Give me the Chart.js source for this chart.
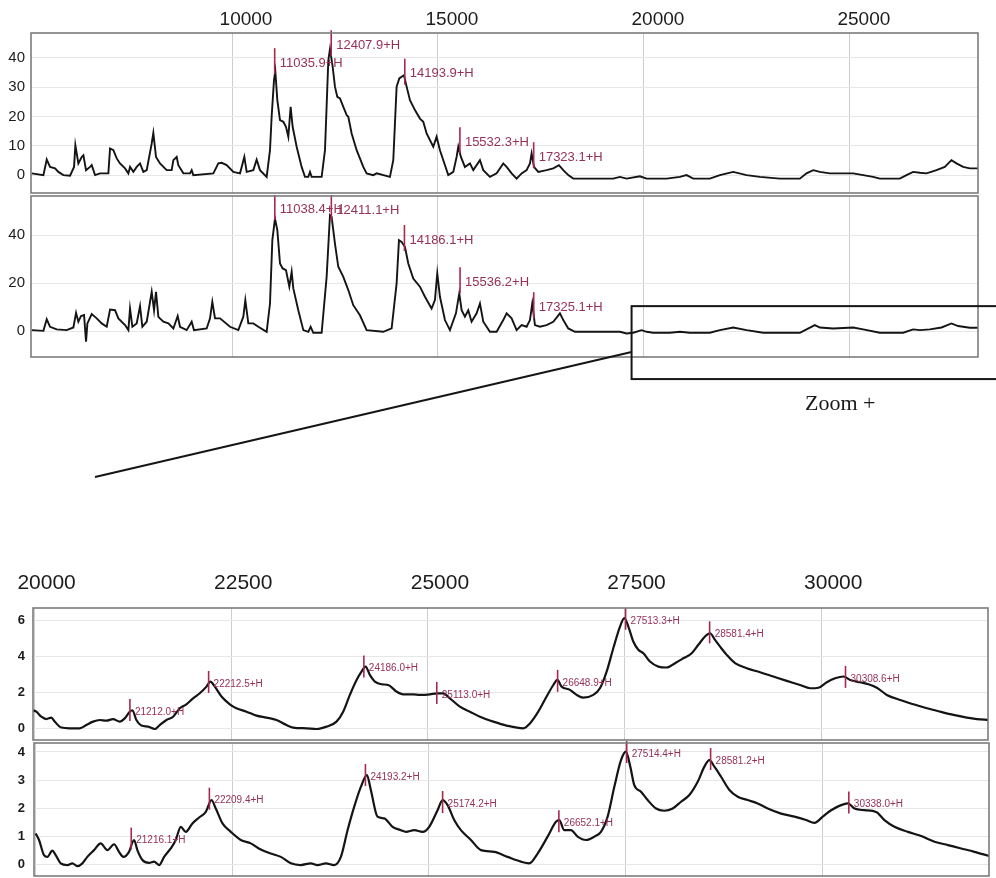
<!DOCTYPE html>
<html>
<head>
<meta charset="utf-8">
<title>Spectra</title>
<script src="https://cdn.jsdelivr.net/npm/chart.js@4.4.1/dist/chart.umd.min.js"></script>
<style>
    html, body { margin: 0; padding: 0; background: #fff; }
    body { width: 996px; height: 878px; position: relative; overflow: hidden; }
    canvas { position: absolute; left: 0; }
    #zoom-text { position: absolute; left: 805px; top: 390px; font: 22px "Liberation Serif", "Times New Roman", serif; color: #1a1a1a; white-space: nowrap; }
</style>
</head>
<body>
<canvas id="full-top" width="996" height="195" style="top:0"></canvas>
<canvas id="full-bottom" width="996" height="300" style="top:195px"></canvas>
<canvas id="zoom-top" width="996" height="182" style="top:560px"></canvas>
<canvas id="zoom-bottom" width="996" height="138" style="top:740px"></canvas>
<div id="zoom-text">Zoom +</div>
<script>
(function () {
    "use strict";

    // Full range spectrum, upper trace (m/z, intensity)
    var specA_mz = [5138,5421,5502,5583,5704,5785,5906,6068,6165,6197,6270,6351,6392,6456,6553,6594,6675,6796,6998,7039,
        7120,7201,7281,7403,7484,7524,7605,7686,7767,7848,7929,8050,8090,8155,8252,8414,8535,8576,8657,8697,
        8819,8980,9021,9061,9547,9668,9749,9870,10032,10194,10299,10356,10517,10598,10679,10841,10922,10962,11019,11051,
        11100,11165,11246,11310,11367,11423,11472,11569,11690,11771,11852,11893,11933,12176,12257,12338,12378,12443,12499,12556,
        12621,12702,12783,12823,12904,13026,13187,13268,13430,13511,13834,13915,13996,14061,14117,14174,14239,14320,14441,14562,
        14643,14724,14886,14967,15048,15129,15250,15372,15452,15493,15557,15654,15776,15857,16019,
        16100,16262,16424,16585,16666,16788,16909,17030,17152,17233,17273,17330,17435,17637,17799,17936,18042,18163,18284,19255,
        19417,19579,19902,20064,20549,20873,21035,21197,21601,21844,22167,22491,22815,23300,23785,23947,24109,24271,24514,25080,
        25322,25565,25727,26212,26374,26536,26698,26860,27102,27304,27466,27588,27749,27911,28113];
    var specA_int = [0.6,0,5.3,2.8,2.3,1.1,0,-0.2,2.8,10.2,4.0,6.2,6.8,1.7,2.8,3.4,0,0.6,0.6,9.1,
        8.5,5.7,4.0,2.3,0.6,2.8,1.1,2.8,4.0,1.1,1.7,10.8,14.4,6.2,4.0,1.7,1.7,5.1,6.2,3.4,
        0.6,0.6,1.7,0,0.6,4.0,4.2,3.4,1.1,0.6,6.2,1.1,1.7,5.3,1.7,-0.6,8.5,19.9,32.4,35.5,
        25.6,18.8,18.2,16.5,13.1,23.3,16.5,9.7,2.8,-0.6,-0.6,1.1,-0.6,-0.6,8.5,39.2,43.0,37.0,30.2,26.7,
        26.2,23.3,20.5,19.9,14.2,8.5,2.8,0.6,0,0.6,-0.6,5.1,30.2,33.0,33.6,34.1,30.2,25.6,22.2,19.3,
        18.2,14.2,9.7,13.1,8.5,5.1,0,1.1,6.2,9.7,6.2,2.8,4.0,1.7,5.1,
        1.7,-0.6,0.6,4.0,2.8,0.6,-1.2,0.6,1.7,4.0,7.4,2.8,1.1,1.7,2.3,3.4,1.7,0,-1.2,-1.2,
        -0.6,-1.2,-0.4,-1.2,-1.2,-0.6,0,-1.2,-1.2,0,1.1,0,-0.6,-1.2,-1.2,0.6,1.7,1.1,0.6,0.6,
        0,-0.6,-1.2,-1.2,0,1.1,0.8,0.6,1.7,2.8,5.1,4.0,2.8,2.3,2.3];

    // Full range spectrum, lower trace
    var specB_mz = [5138,5421,5502,5583,5744,5987,6149,6214,6270,6335,6408,6456,6489,6594,6715,6836,6958,7039,7160,7241,
        7403,7484,7524,7581,7686,7767,7823,7929,8050,8107,8155,8212,8333,8455,8576,8681,8738,8899,9021,9077,
        9385,9466,9522,9587,9709,9951,10153,10275,10323,10396,10517,10639,10841,10922,10979,11043,11100,11165,11229,11310,
        11391,11448,11488,11609,11731,11852,11909,11974,12176,12297,12378,12418,12499,12580,12702,12823,12944,13106,13268,13672,
        13875,13996,14053,14117,14198,14279,14400,14562,14684,14845,14926,14983,15048,15169,15290,15436,15517,15574,15654,15735,
        15816,15938,16019,16100,16262,16424,16585,16666,16788,16909,
        17030,17152,17233,17289,17354,17475,17637,17799,17961,18042,18163,18325,19417,19579,19740,19943,20064,20226,20630,20873,
        21116,21601,21844,22167,22491,22896,23785,23947,24149,24271,24595,25080,25322,25727,26293,26536,26698,26941,27224,27466,
        27628,27911,28113];
    var specB_int = [0.4,0.1,4.9,1.8,0.7,0.4,1.5,7.6,3.9,6.3,6.7,-4.4,3.2,7.1,5.3,3.2,1.8,9.0,8.7,5.3,
        2.5,0.4,9.4,1.8,3.2,10.4,1.8,3.9,16.4,8.7,16.4,5.9,3.9,3.2,1.1,6.3,1.8,0.4,3.9,0.4,
        1.1,5.3,12.2,5.3,5.3,1.8,0.4,6.0,12.9,3.2,3.2,1.8,-0.3,11.5,37.9,46.9,42.1,28.2,26.1,25.4,
        18.5,24.7,17.8,8.7,0.4,-0.3,1.8,-0.7,-0.7,22.6,48.3,47.6,36.5,26.8,22.6,17.1,10.8,6.6,0.4,-0.3,
        1.1,19.9,37.9,37.2,35.1,28.2,21.9,18.5,14.3,9.4,12.9,24.0,14.3,4.6,0.4,7.4,15.7,8.7,6.0,8.7,
        3.9,7.4,11.5,3.9,-0.3,-0.3,4.6,7.4,5.3,0.4,
        2.5,1.8,4.6,11.5,2.5,1.8,2.5,3.9,7.4,4.6,1.1,-0.3,-0.3,-1.0,-0.7,0.4,-0.3,-0.7,-0.7,-0.3,
        -0.7,-0.7,0.4,1.5,0.4,-0.7,-0.7,0.7,2.5,1.5,1.1,1.5,0.7,-0.7,-0.7,0.7,0.4,0.7,1.5,3.2,
        2.1,1.4,1.4];

    // Zoomed region, upper trace
    var zoomA_mz = [19980,20022,20086,20150,20213,20256,20340,20446,20574,20658,20743,20828,20913,20998,21082,21146,21210,21244,21294,21358,
        21443,21528,21591,21676,21761,21846,21930,22015,22100,22185,22236,22291,22376,22482,22566,22694,22821,22948,23075,23202,
        23287,23457,23584,23711,23838,23923,24008,24093,24156,24207,24262,24326,24411,24496,24602,24686,24814,24898,25026,25110,
        25195,25280,25407,25534,25662,25831,26000,26212,26297,26403,
        26509,26594,26645,26700,26806,26891,26975,27103,27187,27272,27357,27442,27497,27548,27611,27675,27739,27823,27929,28035,
        28141,28247,28353,28438,28523,28587,28650,28714,28799,28905,29053,29223,29392,29562,29731,29859,29965,30071,30177,30283,
        30368,30495,30601,30707,30834,31003,31173,31343,31512,31682,31851,31979,32127];
    var zoomA_int = [1.0,0.92,0.64,0.51,0.59,0.37,0.04,0.0,0.0,0.18,0.37,0.46,0.42,0.51,0.37,0.55,0.92,1.0,0.46,0.15,
        0.09,-0.04,0.18,0.46,0.64,1.11,1.33,1.66,1.94,2.31,2.59,2.31,1.76,1.33,1.11,0.92,0.70,0.59,0.46,0.18,
        0.04,0.0,-0.04,0.09,0.37,0.92,1.85,2.68,3.14,3.42,2.96,2.59,2.44,2.40,2.03,1.88,1.88,1.85,1.88,1.94,
        1.94,1.66,1.20,0.92,0.64,0.37,0.15,0.0,0.27,0.92,
        1.76,2.40,2.68,2.31,2.13,1.85,1.70,1.85,2.22,3.14,4.44,5.64,6.11,5.64,4.81,4.35,4.16,3.70,3.42,3.37,
        3.61,3.88,4.16,4.63,5.09,5.27,4.90,4.53,4.07,3.61,3.33,3.11,2.87,2.63,2.40,2.22,2.25,2.55,2.77,2.87,
        2.68,2.55,2.44,2.25,1.85,1.57,1.33,1.11,0.92,0.74,0.59,0.51,0.46];

    // Zoomed region, lower trace
    var zoomB_mz = [20001,20044,20107,20150,20213,20256,20319,20404,20468,20531,20595,20658,20743,20828,20913,20998,21061,21116,21188,21252,
        21294,21358,21443,21506,21570,21634,21718,21782,21846,21909,21994,22079,22164,22236,22291,22376,22482,22609,22736,22863,
        22990,23118,23245,23372,23499,23584,23690,23796,23881,23966,24050,24135,24212,24262,24347,24432,24538,24644,24708,24814,
        24920,25004,25110,25174,25238,25322,25407,25534,25662,25831,
        26000,26170,26276,26382,26509,26615,26657,26721,26806,26891,26997,27103,27187,27272,27357,27442,27505,27560,27611,27696,
        27781,27887,27993,28099,28205,28311,28417,28502,28565,28629,28714,28820,28926,29053,29180,29307,29477,29647,29795,29901,
        30007,30113,30240,30325,30410,30537,30685,30791,30918,31088,31258,31427,31597,31767,31936,32127];
    var zoomB_int = [1.10,0.87,0.33,0.27,0.49,0.33,0.04,-0.02,0.04,-0.06,0.04,0.27,0.51,0.75,0.51,0.72,0.45,0.27,0.45,0.87,
        0.51,0.16,0.06,0.10,-0.02,0.27,0.57,0.87,1.34,1.16,1.46,1.67,1.87,2.29,1.99,1.46,1.16,0.87,0.75,0.53,
        0.39,0.27,0.04,-0.02,0.04,-0.02,0.04,-0.02,0.27,1.22,2.05,2.76,3.18,2.65,1.70,1.64,1.34,1.22,1.16,1.22,
        1.16,1.34,1.93,2.29,2.11,1.58,1.22,0.87,0.51,0.45,
        0.27,0.10,0.04,0.39,0.99,1.52,1.58,1.22,1.22,0.99,0.87,0.99,1.16,1.70,2.76,3.71,4.01,3.48,2.82,2.59,
        2.29,1.99,1.91,1.99,2.23,2.47,2.94,3.48,3.71,3.48,3.12,2.65,2.41,2.29,2.17,1.99,1.81,1.70,1.58,1.48,
        1.70,1.93,2.11,2.17,1.99,1.93,1.87,1.58,1.34,1.16,1.01,0.81,0.69,0.57,0.45,0.30];

    // Labelled peaks: m/z and height of the red marker
    var peaksA_mz = [11035.9, 12407.9, 14193.9, 15532.3, 17323.1];
    var peaksA_mark = [38.9, 45.0, 35.3, 11.9, 6.8];
    var peaksB_mz = [11038.4, 12411.1, 14186.1, 15536.2, 17325.1];
    var peaksB_mark = [51.7, 51.3, 38.8, 21.2, 10.8];
    var zoomPeaksA_mz = [21212.0, 22212.5, 24186.0, 25113.0, 26648.9, 27513.3, 28581.4, 30308.6];
    var zoomPeaksA_mark = [1.02, 2.57, 3.43, 1.96, 2.63, 6.07, 5.32, 2.85];
    var zoomPeaksB_mz = [21216.1, 22209.4, 24193.2, 25174.2, 26652.1, 27514.4, 28581.2, 30338.0];
    var zoomPeaksB_mark = [0.92, 2.34, 3.18, 2.22, 1.54, 4.00, 3.75, 2.20];

    // Axis ticks
    var xTicksFull = [10000, 15000, 20000, 25000];
    var yTicksA = [0, 10, 20, 30, 40];
    var yTicksB = [0, 20, 40];
    var xTicksZoom = [20000, 22500, 25000, 27500, 30000];
    var yTicksZoomA = [0, 2, 4, 6];
    var yTicksZoomB = [0, 1, 2, 3, 4];

    // Zoom window marked on the lower full spectrum
    var zoomWindowFrom = 19700;
    var zoomWindowTop = 10.4;
    var zoomWindowBottom = -20;

    var SANS = "'Liberation Sans', Arial, sans-serif";

    var toPoints = function (xs, ys) {
        return xs.map(function (x, i) { return { x: x, y: ys[i] }; });
    };

    // Red marker + label at each picked peak
    var peakMarkers = function (mzList, markList, size, fontSize) {
        return {
            id: 'peakMarkers',
            afterDatasetsDraw: function (chart) {
                var ctx = chart.ctx;
                var xs = chart.scales.x, ys = chart.scales.y;
                ctx.save();
                ctx.font = fontSize + 'px ' + SANS;
                ctx.textBaseline = 'middle';
                ctx.textAlign = 'left';
                mzList.forEach(function (mz, i) {
                    var px = xs.getPixelForValue(mz);
                    var py = ys.getPixelForValue(markList[i]);
                    ctx.strokeStyle = '#a8284c';
                    ctx.lineWidth = 1.6;
                    ctx.beginPath();
                    ctx.moveTo(px, py - size / 2);
                    ctx.lineTo(px, py + size / 2);
                    ctx.stroke();
                    ctx.fillStyle = '#963058';
                    ctx.fillText(mz.toFixed(1) + '+H', px + 5, py + 2);
                });
                ctx.restore();
            }
        };
    };

    // Grey box round the plot area
    var frame = {
        id: 'frame',
        afterDraw: function (chart) {
            var a = chart.chartArea, ctx = chart.ctx;
            ctx.save();
            ctx.strokeStyle = '#7c7c7c';
            ctx.lineWidth = 1.6;
            ctx.strokeRect(a.left, a.top, a.right - a.left, a.bottom - a.top);
            ctx.restore();
        }
    };

    // Zoom window box and pointer line
    var zoomBox = {
        id: 'zoomBox',
        afterDraw: function (chart) {
            var ctx = chart.ctx;
            var xs = chart.scales.x, ys = chart.scales.y;
            var left = xs.getPixelForValue(zoomWindowFrom);
            var top = ys.getPixelForValue(zoomWindowTop);
            var bottom = ys.getPixelForValue(zoomWindowBottom);
            ctx.save();
            ctx.strokeStyle = '#151515';
            ctx.lineWidth = 2;
            ctx.strokeRect(left, top, chart.width + 10 - left, bottom - top);
            ctx.beginPath();
            ctx.moveTo(left, top + (bottom - top) * 0.63);
            ctx.lineTo(95, 282);
            ctx.stroke();
            ctx.restore();
        }
    };

    var fixedTicks = function (list) {
        return function (axis) {
            axis.ticks = list.map(function (v) { return { value: v }; });
        };
    };

    var spectrumChart = function (id, cfg) {
        var ctx = document.getElementById(id).getContext('2d');
        return new Chart(ctx, {
            type: 'line',
            data: {
                datasets: [{
                    data: toPoints(cfg.mz, cfg.int),
                    borderColor: '#141414',
                    borderWidth: cfg.smooth ? 2.2 : 1.9,
                    pointRadius: 0,
                    tension: cfg.smooth ? 0.35 : 0,
                    cubicInterpolationMode: cfg.smooth ? 'monotone' : 'default',
                    fill: false
                }]
            },
            options: {
                responsive: false,
                animation: false,
                devicePixelRatio: 1,
                events: [],
                layout: { padding: cfg.padding },
                plugins: { legend: { display: false }, tooltip: { enabled: false } },
                scales: {
                    x: {
                        type: 'linear',
                        position: 'top',
                        min: cfg.xMin,
                        max: cfg.xMax,
                        afterBuildTicks: fixedTicks(cfg.xTicks),
                        afterFit: function (axis) {
                            axis.height = cfg.xHeight;
                            axis.paddingLeft = 0; axis.paddingRight = 0;
                        },
                        grid: { color: '#cdcdcd', lineWidth: 1, drawTicks: false },
                        border: { display: false },
                        ticks: {
                            display: cfg.xLabels,
                            color: '#1c1c1c',
                            font: { family: SANS, size: cfg.xFont },
                            padding: cfg.xPad,
                            labelOffset: cfg.xShift,
                            maxRotation: 0,
                            autoSkip: false,
                            callback: function (v) { return String(v); }
                        }
                    },
                    y: {
                        type: 'linear',
                        min: cfg.yMin,
                        max: cfg.yMax,
                        afterBuildTicks: fixedTicks(cfg.yTicks),
                        afterFit: function (axis) {
                            axis.width = cfg.yWidth;
                            axis.paddingTop = 0; axis.paddingBottom = 0;
                        },
                        grid: { color: '#e6e6e6', lineWidth: 1, drawTicks: false },
                        border: { display: false },
                        ticks: {
                            color: '#1c1c1c',
                            font: { family: SANS, size: cfg.yFont, weight: cfg.yBold ? 'bold' : 'normal' },
                            padding: cfg.yPad,
                            callback: function (v) { return String(v); }
                        }
                    }
                }
            },
            plugins: [frame, peakMarkers(cfg.peaks, cfg.marks, cfg.markSize, cfg.labelFont)].concat(cfg.extra || [])
        });
    };

    // Full spectrum, upper
    spectrumChart('full-top', {
        mz: specA_mz, int: specA_int, peaks: peaksA_mz, marks: peaksA_mark,
        xMin: 5120, xMax: 28110, yMin: -6.1, yMax: 48.5,
        xTicks: xTicksFull, yTicks: yTicksA,
        padding: { top: 0, right: 18, bottom: 2, left: 0 },
        xHeight: 33, xLabels: true, xFont: 19, xPad: 2, xShift: 14,
        yWidth: 31, yFont: 15, yPad: 6,
        markSize: 26, labelFont: 13
    });

    // Full spectrum, lower (with zoom window)
    spectrumChart('full-bottom', {
        mz: specB_mz, int: specB_int, peaks: peaksB_mz, marks: peaksB_mark,
        xMin: 5120, xMax: 28110, yMin: -10.8, yMax: 56.3,
        xTicks: xTicksFull, yTicks: yTicksB,
        padding: { top: 1, right: 18, bottom: 138, left: 0 },
        xHeight: 0, xLabels: false, xFont: 19, xPad: 0, xShift: 0,
        yWidth: 31, yFont: 15, yPad: 6,
        markSize: 26, labelFont: 13,
        extra: [zoomBox]
    });

    // Zoom, upper
    spectrumChart('zoom-top', {
        mz: zoomA_mz, int: zoomA_int, peaks: zoomPeaksA_mz, marks: zoomPeaksA_mark, smooth: true,
        xMin: 19980, xMax: 32120, yMin: -0.65, yMax: 6.67,
        xTicks: xTicksZoom, yTicks: yTicksZoomA,
        padding: { top: 0, right: 8, bottom: 2, left: 0 },
        xHeight: 48, xLabels: true, xFont: 21, xPad: 12, xShift: 12,
        yWidth: 33, yFont: 13, yBold: true, yPad: 8,
        markSize: 22, labelFont: 10
    });

    // Zoom, lower
    spectrumChart('zoom-bottom', {
        mz: zoomB_mz, int: zoomB_int, peaks: zoomPeaksB_mz, marks: zoomPeaksB_mark, smooth: true,
        xMin: 19980, xMax: 32120, yMin: -0.41, yMax: 4.32,
        xTicks: xTicksZoom, yTicks: yTicksZoomB,
        padding: { top: 3, right: 7, bottom: 2, left: 0 },
        xHeight: 0, xLabels: false, xFont: 21, xPad: 0, xShift: 0,
        yWidth: 34, yFont: 13, yBold: true, yPad: 9,
        markSize: 22, labelFont: 10
    });

})();
</script>
</body>
</html>
